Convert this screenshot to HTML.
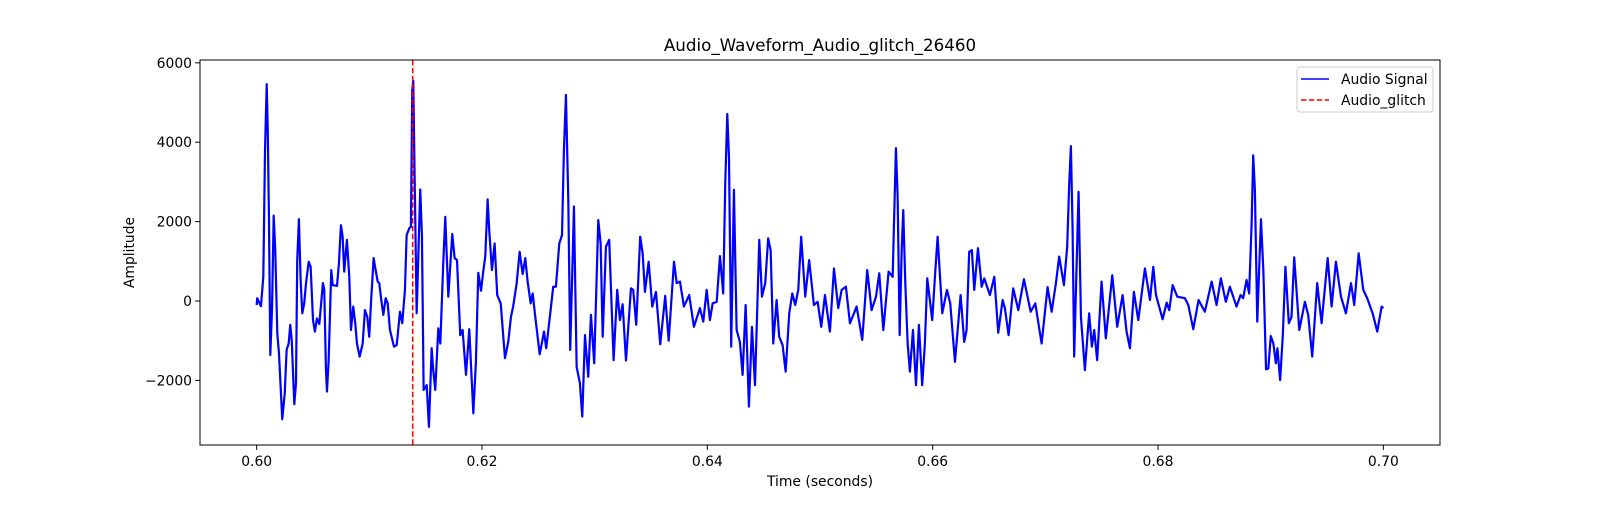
<!DOCTYPE html>
<html><head><meta charset="utf-8"><style>
html,body{margin:0;padding:0;background:#fff;}
svg text{font-family:"DejaVu Sans","Liberation Sans",sans-serif;fill:#000;}
</style></head><body>
<svg id="chart" width="1600" height="500" xmlns="http://www.w3.org/2000/svg">
<rect width="1600" height="500" fill="#fff"/>
<text x="820" y="51" font-size="16.7" text-anchor="middle">Audio_Waveform_Audio_glitch_26460</text>
<g id="marks"></g>
<g id="axes"></g>
<rect x="200" y="60" width="1240" height="385" fill="none" stroke="#000" stroke-width="1"/>
<text x="820" y="486" font-size="13.9" text-anchor="middle">Time (seconds)</text>
<text transform="translate(134,252.5) rotate(-90)" font-size="13.9" text-anchor="middle">Amplitude</text>
<g>
<rect x="1297" y="67" width="136" height="45" rx="3" fill="#fff" fill-opacity="0.8" stroke="#ccc"/>
<line x1="1301" y1="79" x2="1329" y2="79" stroke="#0000ff" stroke-width="1.5"/>
<text x="1341" y="84" font-size="13.9">Audio Signal</text>
<line x1="1301" y1="100" x2="1329" y2="100" stroke="#ff0000" stroke-width="1.5" stroke-dasharray="5.5,2.4"/>
<text x="1341" y="105" font-size="13.9">Audio_glitch</text>
</g>
</svg>
<script>
// time offsets in ms after 0.600 s
const timeMs = [0,0.05,0.38,0.59,0.74,0.89,0.98,1.09,1.21,1.36,1.51,1.65,1.83,1.98,2.27,2.49,2.66,2.84,2.98,3.11,3.34,3.49,3.60,3.75,3.90,4.05,4.22,4.38,4.62,4.79,5.00,5.17,5.35,5.56,5.88,6.00,6.15,6.24,6.39,6.62,6.75,7.13,7.30,7.48,7.63,7.77,8.01,8.22,8.37,8.57,8.75,8.90,9.14,9.41,9.61,9.82,9.99,10.17,10.38,10.56,10.74,10.88,11.06,11.24,11.45,11.63,11.83,
12.19,12.43,12.72,12.92,13.16,13.31,13.54,13.69,13.81,13.90,14.02,14.20,14.38,14.52,14.67,14.82,15.09,15.29,15.53,15.67,15.85,16.12,16.30,16.56,16.74,17.01,17.36,17.57,17.78,18.07,18.28,18.58,18.87,19.23,19.46,19.67,19.91,20.11,20.29,20.50,20.64,20.88,21.12,21.35,21.66,22.04,22.33,22.57,22.77,23.08,23.34,23.61,23.84,24.05,24.32,24.50,24.73,25.12,25.32,25.50,25.70,26.09,26.32,26.56,26.86,27.10,27.27,27.45,27.66,27.83,28.01,28.16,28.40,28.69,
28.90,29.14,29.43,29.67,29.96,30.32,30.53,30.71,31.00,31.29,31.68,32.00,32.24,32.48,32.78,33.22,33.42,33.69,34.04,34.26,34.46,34.79,35.11,35.44,35.82,36.26,36.57,37.04,37.28,37.57,37.92,38.39,38.81,39.34,39.64,39.94,40.23,40.47,40.83,41.12,41.41,41.59,41.77,41.92,42.12,42.36,42.60,42.89,43.13,43.40,43.69,43.96,44.23,44.61,44.85,45.14,45.40,
45.62,45.85,46.15,46.38,46.68,46.95,47.27,47.54,47.80,48.07,48.33,48.69,49.04,49.46,49.79,50.11,50.44,50.88,51.24,51.62,51.92,52.30,52.66,53.25,53.75,54.19,54.58,54.97,55.26,55.62,56.09,56.45,56.56,56.74,56.89,57.07,57.25,57.39,57.57,57.78,57.98,58.25,58.52,58.78,59.07,59.31,59.52,59.96,60.23,60.44,60.85,61.27,61.56,61.98,
62.48,62.80,63.01,63.24,63.48,63.69,64.02,64.35,64.58,65.08,65.47,65.82,66.21,66.41,66.74,67.15,67.60,68.10,68.70,69.11,69.67,70.20,70.56,70.94,71.23,71.65,71.94,72.12,72.27,72.42,72.56,72.95,73.16,73.51,73.89,74.13,74.34,74.60,74.99,75.37,75.94,76.38,76.86,77.21,77.51,77.86,78.25,78.84,79.29,
79.58,79.82,80.41,80.77,81.00,81.30,81.71,82.39,82.69,83.13,83.60,84.16,84.76,85.20,85.58,86.02,86.38,86.97,87.33,87.56,87.86,88.09,88.31,88.45,88.60,88.81,89.14,89.35,89.59,89.79,90.01,90.24,90.46,90.60,90.84,91.08,91.31,91.61,91.85,92.09,92.54,
93.04,93.33,93.69,94.13,94.52,95.06,95.41,95.79,96.24,96.68,97.13,97.42,97.81,98.22,98.57,99.05,99.46,99.85,100.0];
const amplitude = [-100,70,-130,610,3800,5460,4390,2120,-1360,-230,2150,1280,-810,-1320,-2980,-2330,-1230,-1070,-600,-980,-2600,-2070,1030,2060,530,-310,-60,450,990,860,-480,-770,-440,-580,450,280,-1740,-2280,-1490,780,400,380,950,1910,1620,740,1540,610,-730,-140,-560,-1070,-1400,-1070,-230,-400,-900,70,1080,780,490,450,30,-350,70,-60,-730,
-1150,-1110,-270,-560,280,1660,1830,1870,5320,5550,3130,-310,1450,2810,1620,-2240,-2120,-3170,-1190,-1740,-2240,-690,-1070,950,2120,110,1690,1080,1033,-860,-730,-1860,-710,-2830,-1530,710,260,740,1120,2560,1790,780,1450,150,-60,-1440,-1030,-400,-130,450,1240,680,1080,490,-60,190,-400,-1340,-1050,-770,-1190,-230,360,360,1450,1660,3800,5190,2540,-1230,700,2380,-1660,-2070,
-2910,-860,-1910,-350,-1570,2040,1450,-900,1370,1540,-1490,280,-480,-80,-1500,320,280,-600,1620,1200,230,990,-140,230,-1090,130,-1000,990,450,490,-140,150,-650,-180,-520,280,-480,-60,-20,1130,190,2960,4710,3630,-1150,2800,-730,-1030,-1860,-100,-2660,-650,-2120,1540,110,450,1580,
1280,-1070,25,-900,-1110,-1780,-310,190,-100,280,1620,110,1030,-100,-20,-650,150,-770,820,-180,280,360,-560,-140,-980,780,-230,110,700,-730,740,610,1870,3850,2630,-860,1280,2290,450,-1070,-1780,-730,-2120,-600,-2120,-1070,570,-480,740,1620,-310,280,-60,-1530,
150,-1030,-730,1240,1280,280,1330,360,570,150,610,-800,25,-180,-860,320,-230,550,-270,-60,-1070,350,-270,450,1120,400,1370,2960,3900,1790,-1400,2750,-400,-1740,-310,-1150,-730,-1490,490,-940,650,-650,150,-770,-1190,230,-480,820,25,
860,150,-460,-40,-230,400,110,70,-100,-710,25,-270,490,-100,570,-20,360,-140,150,70,530,190,1960,3670,2800,-520,2060,780,-1720,-1700,-880,-1070,-1570,-1190,-1990,-860,860,-560,-400,1100,-730,
-20,-350,-1400,450,-560,1080,-140,990,110,-310,450,-100,1200,280,70,-310,-770,-140,-180];
const xTickValues = [0.60,0.62,0.64,0.66,0.68,0.70];
const xTickLabels = ["0.60","0.62","0.64","0.66","0.68","0.70"];
const yTickValues = [-2000,0,2000,4000,6000];
const yTickLabels = ["\u22122000","0","2000","4000","6000"];
const glitchTime = [0.61385];

const NS = "http://www.w3.org/2000/svg";
const X0 = 200, X1 = 1440, Y0 = 60, Y1 = 445;
const xMin = 0.59497, xMax = 0.70503, yMin = -3627, yMax = 6071;
function xScale(t){ return X0 + (t - xMin) / (xMax - xMin) * (X1 - X0); }
function yScale(v){ return Y1 - (v - yMin) / (yMax - yMin) * (Y1 - Y0); }

const marks = document.getElementById('marks');
const axes = document.getElementById('axes');

let d = '';
for (let i = 0; i < timeMs.length; i++) {
  const t = 0.6 + timeMs[i] / 1000;
  d += (i ? 'L' : 'M') + xScale(t).toFixed(2) + ',' + yScale(amplitude[i]).toFixed(2);
}
const line = document.createElementNS(NS, 'path');
line.setAttribute('d', d);
line.setAttribute('fill', 'none');
line.setAttribute('stroke', '#0000ff');
line.setAttribute('stroke-width', '2.2');
line.setAttribute('stroke-linejoin', 'round');


marks.appendChild(line);

glitchTime.forEach(g => {
  const gl = document.createElementNS(NS, 'line');
  const gx = xScale(g);
  gl.setAttribute('x1', gx); gl.setAttribute('x2', gx);
  gl.setAttribute('y1', Y0); gl.setAttribute('y2', Y1);
  gl.setAttribute('stroke', '#ff0000');
  gl.setAttribute('stroke-width', '1.5');
  gl.setAttribute('stroke-dasharray', '5.5,2.4');
  
  
  marks.appendChild(gl);
});

xTickValues.forEach((v, i) => {
  const x = xScale(v);
  const tk = document.createElementNS(NS, 'line');
  tk.setAttribute('x1', x); tk.setAttribute('x2', x);
  tk.setAttribute('y1', Y1); tk.setAttribute('y2', Y1 + 4.9);
  tk.setAttribute('stroke', '#000');
  
  
  axes.appendChild(tk);
  const tx = document.createElementNS(NS, 'text');
  tx.setAttribute('x', x); tx.setAttribute('y', Y1 + 21);
  tx.setAttribute('font-size', '13.9');
  tx.setAttribute('text-anchor', 'middle');
  tx.textContent = xTickLabels[i];
  
  
  axes.appendChild(tx);
});

yTickValues.forEach((v, i) => {
  const y = yScale(v);
  const tk = document.createElementNS(NS, 'line');
  tk.setAttribute('x1', X0 - 4.9); tk.setAttribute('x2', X0);
  tk.setAttribute('y1', y); tk.setAttribute('y2', y);
  tk.setAttribute('stroke', '#000');
  
  
  axes.appendChild(tk);
  const tx = document.createElementNS(NS, 'text');
  tx.setAttribute('x', X0 - 8); tx.setAttribute('y', y + 5);
  tx.setAttribute('font-size', '13.9');
  tx.setAttribute('text-anchor', 'end');
  tx.textContent = yTickLabels[i];
  
  
  axes.appendChild(tx);
});
</script>
</body></html>
